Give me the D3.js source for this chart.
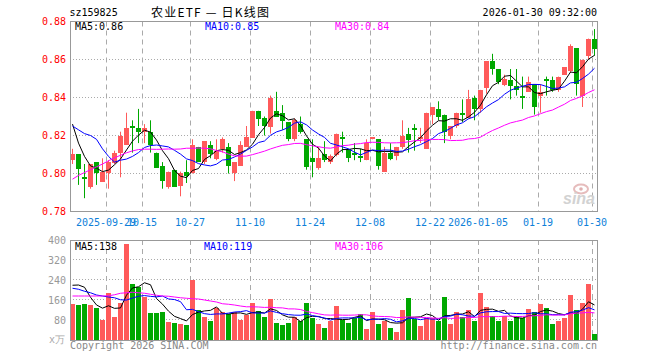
<!DOCTYPE html>
<html><head><meta charset="utf-8">
<script src="https://cdn.jsdelivr.net/npm/d3@7"></script>
<style>
html,body{margin:0;padding:0;background:#fff;}
svg text{font-family:"DejaVu Sans Mono",monospace;font-size:10px;}
</style></head>
<body><svg id="c" width="660" height="360"></svg>
<script>
// ---------- data ----------
const dates = ["2025-09-19","2025-09-22","2025-09-23","2025-09-24","2025-09-25","2025-09-26","2025-09-29","2025-09-30",
"2025-10-09","2025-10-10","2025-10-13","2025-10-14","2025-10-15","2025-10-16","2025-10-17","2025-10-20","2025-10-21","2025-10-22","2025-10-23","2025-10-24","2025-10-27","2025-10-28","2025-10-29","2025-10-30","2025-10-31",
"2025-11-03","2025-11-04","2025-11-05","2025-11-06","2025-11-07","2025-11-10","2025-11-11","2025-11-12","2025-11-13","2025-11-14","2025-11-17","2025-11-18","2025-11-19","2025-11-20","2025-11-21","2025-11-24","2025-11-25","2025-11-26","2025-11-27","2025-11-28",
"2025-12-01","2025-12-02","2025-12-03","2025-12-04","2025-12-05","2025-12-08","2025-12-09","2025-12-10","2025-12-11","2025-12-12","2025-12-15","2025-12-16","2025-12-17","2025-12-18","2025-12-19","2025-12-22","2025-12-23","2025-12-24","2025-12-25","2025-12-26","2025-12-29","2025-12-30","2025-12-31",
"2026-01-05","2026-01-06","2026-01-07","2026-01-08","2026-01-09","2026-01-12","2026-01-13","2026-01-14","2026-01-15","2026-01-16","2026-01-19","2026-01-20","2026-01-21","2026-01-22","2026-01-23","2026-01-26","2026-01-27","2026-01-28","2026-01-29","2026-01-30"];

const open = [0.807,0.810,0.798,0.793,0.806,0.796,0.800,0.806,0.811,0.815,
0.825,0.824,0.822,0.822,0.811,0.804,0.793,0.802,0.793,0.801,
0.800,0.814,0.806,0.815,0.808,0.813,0.814,0.800,0.804,0.814,
0.819,0.833,0.829,0.825,0.833,0.832,0.827,0.818,0.826,0.818,
0.808,0.803,0.810,0.806,0.810,0.819,0.813,0.811,0.809,0.807,
0.818,0.818,0.801,0.811,0.809,0.814,0.821,0.824,0.818,0.813,
0.831,0.834,0.831,0.820,0.825,0.832,0.829,0.840,0.834,0.845,
0.859,0.855,0.847,0.849,0.846,0.841,0.843,0.847,0.841,0.850,
0.849,0.844,0.852,0.854,0.866,0.841,0.862,0.871];

const high = [0.813,0.810,0.805,0.805,0.806,0.808,0.807,0.812,0.822,0.832,
0.828,0.834,0.826,0.828,0.811,0.806,0.801,0.802,0.801,0.807,
0.818,0.814,0.817,0.817,0.818,0.819,0.816,0.806,0.817,0.825,
0.833,0.833,0.830,0.841,0.843,0.836,0.827,0.829,0.830,0.818,
0.818,0.814,0.817,0.810,0.821,0.822,0.813,0.816,0.813,0.818,
0.819,0.818,0.814,0.816,0.814,0.828,0.824,0.826,0.824,0.832,
0.835,0.838,0.831,0.825,0.832,0.839,0.844,0.841,0.844,0.859,
0.863,0.855,0.852,0.855,0.855,0.851,0.851,0.847,0.847,0.851,
0.851,0.851,0.856,0.868,0.866,0.860,0.871,0.876];

const low = [0.805,0.794,0.787,0.792,0.794,0.796,0.792,0.805,0.798,0.815,
0.811,0.816,0.816,0.811,0.803,0.792,0.792,0.793,0.788,0.795,
0.800,0.806,0.805,0.808,0.807,0.811,0.800,0.796,0.804,0.814,
0.819,0.825,0.820,0.821,0.830,0.823,0.817,0.817,0.821,0.802,
0.798,0.802,0.806,0.805,0.809,0.811,0.806,0.807,0.806,0.807,
0.818,0.802,0.801,0.807,0.807,0.813,0.811,0.812,0.816,0.813,
0.826,0.828,0.816,0.818,0.824,0.827,0.829,0.828,0.832,0.842,
0.852,0.847,0.846,0.839,0.841,0.834,0.843,0.831,0.832,0.841,
0.843,0.843,0.852,0.853,0.841,0.835,0.860,0.862];

const close = [0.810,0.802,0.797,0.805,0.800,0.801,0.806,0.811,0.820,0.824,
0.824,0.822,0.824,0.815,0.803,0.796,0.801,0.793,0.800,0.799,
0.815,0.806,0.817,0.810,0.812,0.818,0.804,0.806,0.815,0.819,
0.833,0.829,0.825,0.840,0.830,0.828,0.818,0.828,0.822,0.803,
0.806,0.808,0.807,0.809,0.821,0.818,0.808,0.810,0.808,0.816,
0.819,0.804,0.811,0.808,0.814,0.820,0.818,0.823,0.819,0.832,
0.835,0.830,0.822,0.825,0.832,0.831,0.839,0.834,0.844,0.859,
0.855,0.848,0.850,0.846,0.844,0.840,0.848,0.835,0.843,0.849,
0.844,0.851,0.856,0.867,0.847,0.860,0.871,0.866];

const volume = [145,141,145,141,129,81,189,93,149,385,
225,213,173,109,109,113,73,69,65,61,
241,121,93,77,130,113,105,113,81,101,
149,115,93,165,69,61,69,91,77,149,
89,65,49,77,137,81,69,89,105,45,
113,65,77,49,33,121,169,84,57,89,
89,76,173,65,113,93,121,77,189,133,
97,77,97,77,97,89,125,113,145,129,
65,77,89,181,121,149,225,25];

const ma5Lead  = [0.826,0.816,0.809,0.804];
const ma10Lead = [0.825,0.823,0.821,0.820,0.818,0.813,0.809,0.806,0.807];
const ma30Lead = [0.797,0.799,0.8005,0.802,0.8035,0.805,0.8067,0.8082,0.8096,0.8109,
0.8119,0.8126,0.8128,0.8128,0.8127,0.8128,0.8129,0.8128,0.8129,0.8133,
0.8133,0.8134,0.8133,0.813,0.8121,0.8114,0.8102,0.8093,0.8091];
const volMa5Lead  = [219,220,211,171];
const volMa10Lead = [207,203,195,189,180,176,172,169,161];
const volMa30Lead = [176,176,176,176,176,176,177,181,187,189,
191,189,187,183,179,176,175,172,169,167,
165,164,160,156,152,145,143,140,136];

const priceTicks = [0.78,0.80,0.82,0.84,0.86,0.88];
const volTicks = [80,160,240,320,400];
const tickDates = ["2025-09-29","2025-10-15","2025-10-27","2025-11-10","2025-11-24","2025-12-08","2025-12-22","2026-01-05","2026-01-19","2026-01-30"];
const tickLabels = ["2025-09-29","10-15","10-27","11-10","11-24","12-08","12-22","2026-01-05","01-19","01-30"];
const priceMaLabels = ["MA5:0.86","MA10:0.85","MA30:0.84"];
const volMaLabels = ["MA5:138","MA10:119","MA30:106"];

// ---------- layout ----------
const L = 70, R = 598;
const pTop = 21.5, pBot = 211.5, vTop = 240, vBot = 340;
const RED = "#ff5a5a", GREEN = "#00a800";
const maColors = ["#000000","#0000ff","#ff00ff"];

const svg = d3.select("#c");
svg.append("rect").attr("width",660).attr("height",360).attr("fill","#fff");

const x = d3.scaleBand().domain(dates).range([L, R]);
const y = d3.scaleLinear().domain([0.78, 0.88]).range([pBot, pTop]);
const yv = d3.scaleLinear().domain([0, 400]).range([vBot, vTop]);
const cx = d => Math.round(x(d)) + 2.5;

function ma(arr, n, lead){
  return arr.map((v,i)=> i < n-1 ? lead[i] : d3.mean(arr.slice(i-n+1, i+1)));
}

// ---------- grids ----------
function vGrid(top, bot){
  svg.append("g").selectAll("line").data(tickDates).join("line")
    .attr("x1", d=>Math.round(x(d))+0.5).attr("x2", d=>Math.round(x(d))+0.5)
    .attr("y1", top).attr("y2", bot)
    .attr("stroke","#aaa").attr("stroke-dasharray","5,4");
}
vGrid(pTop, pBot); vGrid(vTop, vBot);

svg.append("g").selectAll("line").data(priceTicks.slice(1,-1)).join("line")
  .attr("x1", L).attr("x2", R).attr("y1", d=>Math.floor(y(d))+0.5).attr("y2", d=>Math.floor(y(d))+0.5)
  .attr("stroke","#aaa").attr("stroke-dasharray","1,2");
svg.append("g").selectAll("line").data(volTicks.slice(0,-1)).join("line")
  .attr("x1", L).attr("x2", R).attr("y1", d=>Math.floor(yv(d))-0.5).attr("y2", d=>Math.floor(yv(d))-0.5)
  .attr("stroke","#aaa").attr("stroke-dasharray","1,2");

// watermark
const wm = svg.append("g");
wm.append("ellipse").attr("cx",581).attr("cy",189).attr("rx",7).attr("ry",4.5)
  .attr("fill","none").attr("stroke","#e6bcbc").attr("stroke-width",2);
wm.append("circle").attr("cx",581).attr("cy",189).attr("r",1.8).attr("fill","#e0b0b0");
wm.append("text").attr("x",563).attr("y",204).text("sina")
  .style("font-family","'Liberation Sans',Arial,sans-serif").style("font-size","16px")
  .style("font-weight","bold").style("font-style","italic").attr("fill","#d2d2d2");

// ---------- candles ----------
const idx = d3.range(dates.length);
const col = i => close[i] >= open[i] ? RED : GREEN;
const cg = svg.append("g");
cg.selectAll("line").data(idx).join("line")
  .attr("x1", i=>cx(dates[i])).attr("x2", i=>cx(dates[i]))
  .attr("y1", i=>y(high[i])).attr("y2", i=>y(low[i]))
  .attr("stroke", col).attr("stroke-width",1);
cg.selectAll("rect").data(idx).join("rect")
  .attr("x", i=>Math.round(x(dates[i])))
  .attr("width", 5)
  .attr("y", i=>Math.round(y(Math.max(open[i],close[i]))))
  .attr("height", i=>Math.max(1, Math.round(Math.abs(y(open[i])-y(close[i])))))
  .attr("fill", col).attr("shape-rendering","crispEdges");

// price MAs
const pMAs = [ma(close,5,ma5Lead), ma(close,10,ma10Lead), ma(close,30,ma30Lead)];
pMAs.forEach((s,k)=>{
  svg.append("path").datum(s)
    .attr("d", d3.line().x((v,i)=>cx(dates[i])).y(v=>y(v)))
    .attr("fill","none").attr("stroke", maColors[k]).attr("stroke-width",1);
});

// ---------- volume ----------
svg.append("g").selectAll("rect").data(idx).join("rect")
  .attr("x", i=>Math.round(x(dates[i])))
  .attr("width", 5)
  .attr("y", i=>Math.round(yv(volume[i])))
  .attr("height", i=>vBot - Math.round(yv(volume[i])))
  .attr("fill", col).attr("shape-rendering","crispEdges");
const vMAs = [ma(volume,5,volMa5Lead), ma(volume,10,volMa10Lead), ma(volume,30,volMa30Lead)];
vMAs.forEach((s,k)=>{
  svg.append("path").datum(s)
    .attr("d", d3.line().x((v,i)=>cx(dates[i])).y(v=>yv(v)))
    .attr("fill","none").attr("stroke", maColors[k]).attr("stroke-width",1);
});

// ---------- borders ----------
svg.append("rect").attr("x",L+0.5).attr("y",pTop).attr("width",R-L-1).attr("height",pBot-pTop)
  .attr("fill","none").attr("stroke","#999");
svg.append("rect").attr("x",L+0.5).attr("y",vTop+0.5).attr("width",R-L-1).attr("height",vBot-vTop)
  .attr("fill","none").attr("stroke","#999");

// ---------- axes ----------
const ya = svg.append("g").attr("transform",`translate(${L},0)`)
  .call(d3.axisLeft(y).tickValues(priceTicks).tickFormat(d3.format(".2f")).tickSize(0).tickPadding(4));
ya.select(".domain").remove();
ya.selectAll("text").attr("fill","#ff0000").style("font-family","'DejaVu Sans Mono',monospace").style("font-size","10px");

const va = svg.append("g").attr("transform",`translate(${L},0)`)
  .call(d3.axisLeft(yv).tickValues(volTicks).tickFormat(d3.format("d")).tickSize(0).tickPadding(4));
va.select(".domain").remove();
va.selectAll("text").attr("fill","#999").style("font-family","'DejaVu Sans Mono',monospace").style("font-size","10px");

const labelOf = d => tickLabels[tickDates.indexOf(d)];
const xa = svg.append("g").attr("transform",`translate(-3,${pBot})`)
  .call(d3.axisBottom(x).tickValues(tickDates).tickFormat(labelOf).tickSize(0).tickPadding(7));
xa.select(".domain").remove();
xa.selectAll("text").attr("fill","#0e7fd9").style("font-family","'DejaVu Sans Mono',monospace").style("font-size","10px");

// ---------- legends ----------
const legX = [75, 205, 335];
priceMaLabels.forEach((t,k)=> svg.append("text").attr("x",legX[k]).attr("y",30).attr("fill",maColors[k]).text(t));
volMaLabels.forEach((t,k)=> svg.append("text").attr("x",legX[k]-(k===1?1:0)).attr("y",250).attr("fill",maColors[k]).text(t));

// ---------- header / footer ----------
svg.append("text").attr("x",69.5).attr("y",16).attr("fill","#000").text("sz159825");
svg.append("text").attr("x",151).attr("y",17).attr("fill","#000")
  .attr("textLength",118).attr("lengthAdjust","spacing")
  .style("font-family","'Noto Sans CJK SC',sans-serif").style("font-size","12px")
  .text("农业ETF — 日K线图");
svg.append("text").attr("x",597).attr("y",16).attr("text-anchor","end").attr("fill","#000").text("2026-01-30 09:32:00");
svg.append("text").attr("x",70).attr("y",349).attr("fill","#888").text("Copyright 2026 SINA.COM");
svg.append("text").attr("x",597).attr("y",349).attr("text-anchor","end").attr("fill","#888").text("http://finance.sina.com.cn");
svg.append("text").attr("x",49).attr("y",343).attr("fill","#aaa").text("x万");
</script>
</body></html>
